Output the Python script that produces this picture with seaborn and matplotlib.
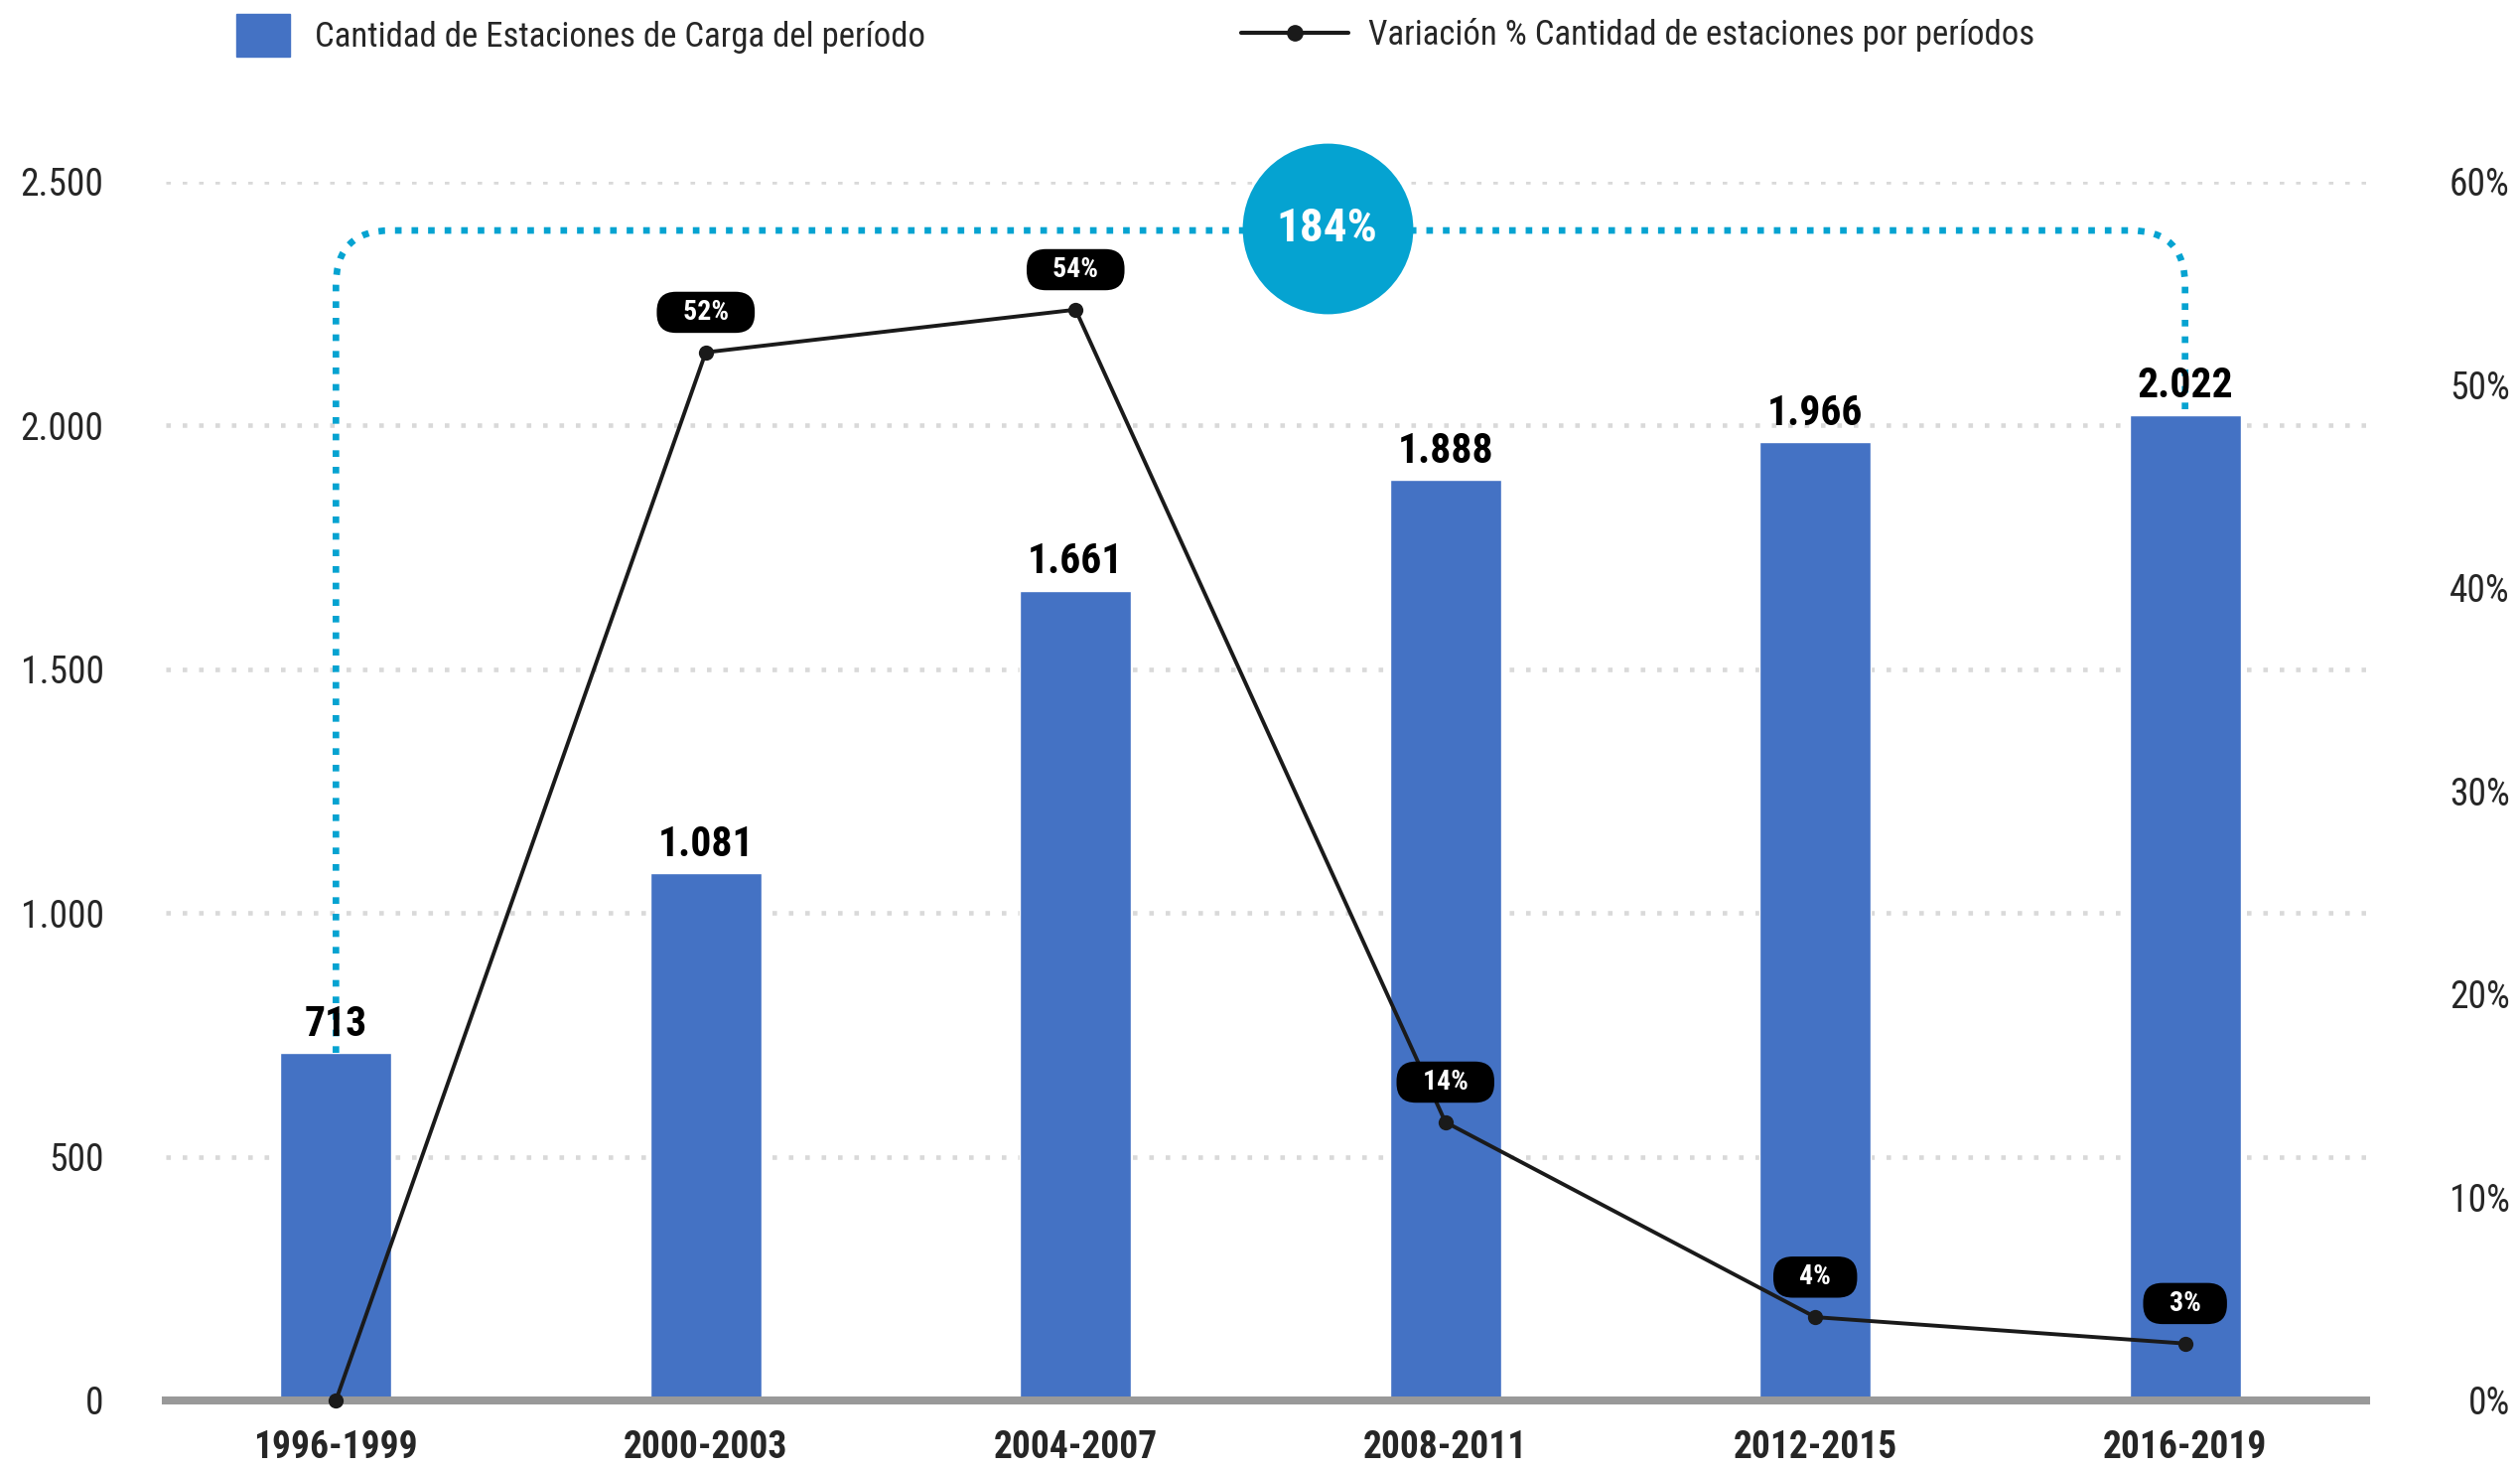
import numpy as np
import pandas as pd
import matplotlib.pyplot as plt
import seaborn as sns
from matplotlib.patches import Patch, FancyArrowPatch
from matplotlib.lines import Line2D

# =========================
# DATA
# =========================

periodos = ["1996-1999", "2000-2003", "2004-2007", "2008-2011", "2012-2015", "2016-2019"]
estaciones = [713, 1081, 1661, 1888, 1966, 2022]
variacion = [0, 51.6, 53.7, 13.7, 4.1, 2.8]
variacion_labels = [None, "52%", "54%", "14%", "4%", "3%"]
total_label = "184%"

left_ticks = [0, 500, 1000, 1500, 2000, 2500]
right_ticks = [0, 10, 20, 30, 40, 50, 60]

leg_bar = "Cantidad de Estaciones de Carga del período"
leg_line = "Variación % Cantidad de estaciones por períodos"

# =========================
# STYLE
# =========================

sns.set_style("white")
plt.rcParams['font.family'] = ['Roboto Condensed', 'Roboto', 'DejaVu Sans']

BAR = "#4472C4"
CYAN = "#05A3D1"
LINE = "#1a1a1a"

fig = plt.figure(figsize=(25.38, 14.79), dpi=100)
ax = fig.add_axes([0.0658, 0.0467, 0.8732, 0.8296])

df = pd.DataFrame({"periodo": periodos, "estaciones": estaciones})

# =========================
# BARS
# =========================

sns.barplot(data=df, x="periodo", y="estaciones", color=BAR, width=0.3,
            saturation=1, ax=ax, zorder=2)

for i, v in enumerate(estaciones):
    ax.annotate(f"{v:,}".replace(",", "."), (i, v), xytext=(0, 6),
                textcoords="offset points", ha="center", va="bottom",
                fontsize=30, fontweight="bold", color="black", zorder=5)

ax.set_ylim(0, 2500)
ax.set_xlim(-0.46, 5.49)
ax.set_yticks(left_ticks)
ax.set_yticklabels([f"{t:,}".replace(",", ".") for t in left_ticks])
ax.tick_params(axis="y", length=0, labelsize=27, pad=45)
ax.tick_params(axis="x", length=0, labelsize=27, pad=21)
for t in ax.get_xticklabels():
    t.set_fontweight("bold")
ax.set_xlabel("")
ax.set_ylabel("")

ax.set_axisbelow(True)
ax.grid(axis="y", color="#d9d9d9", lw=3.3, linestyle=(0, (1, 2.6)))
ax.grid(axis="x", visible=False)
for s in ["top", "left", "right"]:
    ax.spines[s].set_visible(False)
ax.spines["bottom"].set_color("#999999")
ax.spines["bottom"].set_linewidth(5.8)

# =========================
# 184% CONNECTOR
# =========================

top_y = 2400
cx = 2.68
conn_kw = dict(arrowstyle="-", color=CYAN, lw=4.8, linestyle=(0, (1, 1.5)),
               shrinkA=0, shrinkB=0, zorder=3, capstyle="butt")
ax.add_patch(FancyArrowPatch((0, estaciones[0]), (cx, top_y),
                             connectionstyle="angle,angleA=90,angleB=0,rad=55", **conn_kw))
ax.add_patch(FancyArrowPatch((cx, top_y), (5, estaciones[-1]),
                             connectionstyle="angle,angleA=0,angleB=90,rad=55", **conn_kw))
ax.scatter([cx], [2405], s=15300, color=CYAN, zorder=6, clip_on=False, linewidths=0)
ax.text(cx, 2405, total_label, color="white", fontsize=34, fontweight="bold",
        ha="center", va="center", zorder=7)

# =========================
# LINE
# =========================

ax2 = ax.twinx()
sns.lineplot(x=np.arange(len(periodos)), y=variacion, ax=ax2, color=LINE, lw=2.8,
             marker="o", markersize=11, markeredgewidth=0, clip_on=False)
ax2.set_ylim(0, 60)
ax2.set_xlim(-0.46, 5.49)
ax2.set_yticks(right_ticks)
ax2.set_yticklabels([f"{t}%" for t in right_ticks])
ax2.tick_params(axis="y", length=0, labelsize=27, pad=104)
for t in ax2.get_yticklabels():
    t.set_ha("right")
ax2.grid(False)
for s in ax2.spines.values():
    s.set_visible(False)
ax2.set_ylabel("")

for i, lab in enumerate(variacion_labels):
    if lab is None:
        continue
    ax2.annotate(f"   {lab}   ", (i, variacion[i]), xytext=(0, 29),
                 textcoords="offset points", ha="center", va="center",
                 fontsize=20, fontweight="bold", color="white",
                 bbox=dict(boxstyle="round,pad=0.26,rounding_size=0.7",
                           fc="black", ec="none"))

# =========================
# LEGEND
# =========================

fig.legend(handles=[Patch(color=BAR, label=leg_bar)], loc="center left",
           bbox_to_anchor=(0.0938, 0.976), frameon=False, fontsize=25,
           handlelength=1.56, handleheight=1.56, handletextpad=0.72,
           borderpad=0, borderaxespad=0)
fig.legend(handles=[Line2D([0], [0], color=LINE, lw=3, marker="o", markersize=11,
                           label=leg_line)], loc="center left",
           bbox_to_anchor=(0.4925, 0.976), frameon=False, fontsize=25,
           handlelength=3.1, handletextpad=0.6, borderpad=0, borderaxespad=0)

plt.savefig("out.png", dpi=100)
